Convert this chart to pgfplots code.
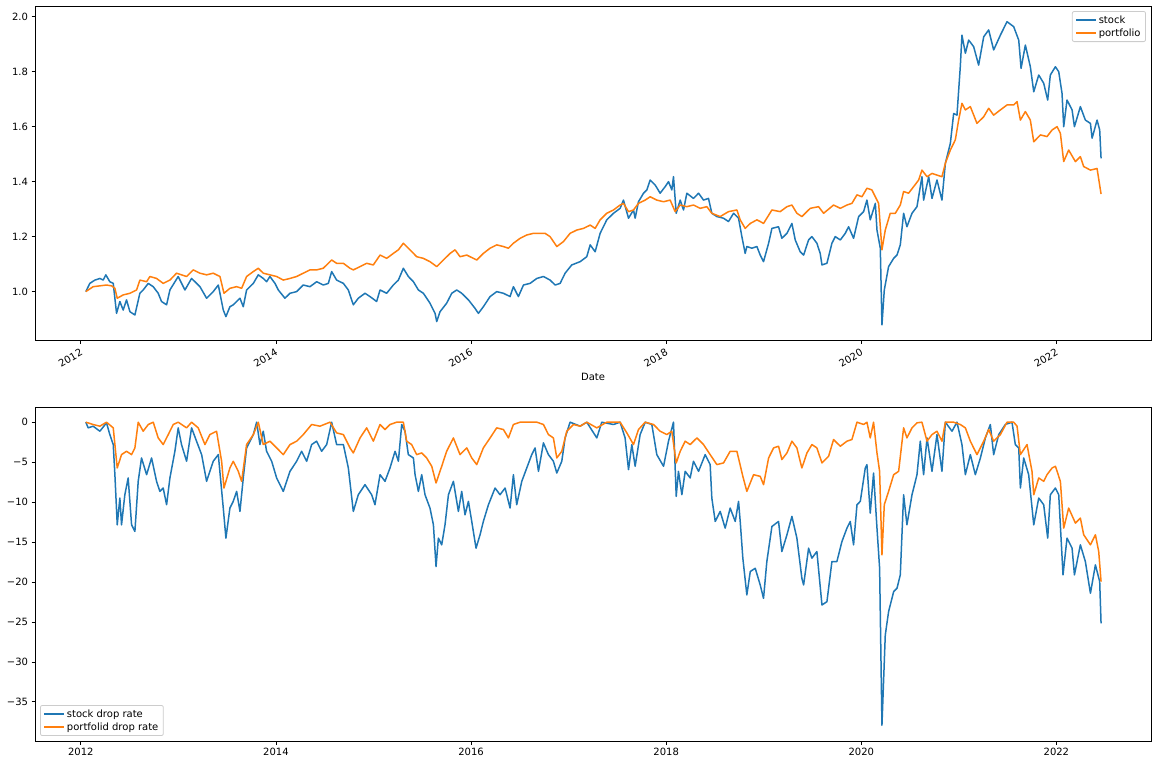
\documentclass[border=0pt]{standalone}
\usepackage{fontspec}
\setmainfont{DejaVu Sans}
\usepackage{pgfplots}
\usepackage{pgfplotstable}
\pgfplotsset{compat=1.18}
\definecolor{cA}{HTML}{1F77B4}
\definecolor{cB}{HTML}{FF7F0E}
\definecolor{lg}{HTML}{CCCCCC}

\pgfplotstableread[row sep=\\]{
x y\\
2012.051 1.000\\ 2012.092 1.030\\ 2012.144 1.042\\ 2012.195 1.048\\ 2012.229 1.042\\ 2012.256 1.061\\ 2012.297 1.036\\ 2012.332 1.030\\
2012.366 0.921\\ 2012.400 0.964\\ 2012.434 0.933\\ 2012.468 0.970\\ 2012.503 0.927\\ 2012.554 0.915\\ 2012.605 0.994\\ 2012.639 1.006\\
2012.691 1.030\\ 2012.742 1.018\\ 2012.793 0.994\\ 2012.827 0.964\\ 2012.879 0.952\\ 2012.913 1.006\\ 2012.998 1.055\\ 2013.067 1.006\\
2013.135 1.048\\ 2013.221 1.018\\ 2013.289 0.976\\ 2013.357 1.000\\ 2013.409 1.024\\ 2013.460 0.933\\ 2013.487 0.909\\ 2013.528 0.945\\
2013.562 0.952\\ 2013.631 0.976\\ 2013.665 0.945\\ 2013.699 1.006\\ 2013.768 1.030\\ 2013.819 1.061\\ 2013.870 1.048\\ 2013.904 1.036\\
2013.938 1.055\\ 2013.990 1.030\\ 2014.024 1.006\\ 2014.092 0.976\\ 2014.144 0.994\\ 2014.212 1.000\\ 2014.280 1.024\\ 2014.349 1.018\\
2014.417 1.036\\ 2014.485 1.024\\ 2014.537 1.030\\ 2014.571 1.073\\ 2014.622 1.042\\ 2014.691 1.030\\ 2014.742 1.006\\ 2014.793 0.952\\
2014.844 0.976\\ 2014.913 0.994\\ 2014.964 0.982\\ 2015.032 0.964\\ 2015.067 1.006\\ 2015.135 0.994\\ 2015.203 1.024\\ 2015.255 1.042\\
2015.306 1.085\\ 2015.357 1.055\\ 2015.409 1.036\\ 2015.460 1.006\\ 2015.511 0.994\\ 2015.579 0.958\\ 2015.631 0.921\\ 2015.648 0.891\\
2015.682 0.927\\ 2015.750 0.958\\ 2015.802 0.994\\ 2015.853 1.006\\ 2015.904 0.994\\ 2015.973 0.970\\ 2016.041 0.939\\ 2016.075 0.921\\
2016.126 0.945\\ 2016.195 0.982\\ 2016.263 1.000\\ 2016.332 0.994\\ 2016.400 0.982\\ 2016.434 1.018\\ 2016.485 0.982\\ 2016.537 1.024\\
2016.605 1.030\\ 2016.674 1.048\\ 2016.742 1.055\\ 2016.810 1.042\\ 2016.862 1.024\\ 2016.913 1.030\\ 2016.964 1.067\\ 2017.032 1.097\\
2017.118 1.109\\ 2017.186 1.127\\ 2017.221 1.170\\ 2017.272 1.145\\ 2017.323 1.212\\ 2017.391 1.261\\ 2017.460 1.285\\ 2017.528 1.303\\
2017.562 1.333\\ 2017.614 1.267\\ 2017.665 1.297\\ 2017.682 1.267\\ 2017.716 1.327\\ 2017.768 1.358\\ 2017.802 1.370\\ 2017.836 1.406\\
2017.887 1.388\\ 2017.938 1.358\\ 2017.990 1.382\\ 2018.024 1.400\\ 2018.058 1.370\\ 2018.075 1.418\\ 2018.103 1.285\\ 2018.144 1.333\\
2018.178 1.297\\ 2018.212 1.358\\ 2018.280 1.339\\ 2018.332 1.358\\ 2018.383 1.333\\ 2018.434 1.339\\ 2018.468 1.285\\ 2018.520 1.273\\
2018.588 1.267\\ 2018.639 1.255\\ 2018.691 1.285\\ 2018.742 1.267\\ 2018.776 1.200\\ 2018.810 1.139\\ 2018.827 1.164\\ 2018.879 1.158\\
2018.930 1.164\\ 2018.964 1.133\\ 2018.998 1.109\\ 2019.050 1.176\\ 2019.084 1.230\\ 2019.152 1.236\\ 2019.186 1.194\\ 2019.238 1.212\\
2019.289 1.248\\ 2019.323 1.188\\ 2019.374 1.145\\ 2019.409 1.133\\ 2019.460 1.188\\ 2019.494 1.200\\ 2019.545 1.176\\ 2019.579 1.139\\
2019.597 1.097\\ 2019.648 1.103\\ 2019.699 1.176\\ 2019.733 1.200\\ 2019.785 1.188\\ 2019.836 1.212\\ 2019.870 1.236\\ 2019.921 1.194\\
2019.973 1.273\\ 2020.024 1.291\\ 2020.058 1.333\\ 2020.092 1.261\\ 2020.144 1.321\\ 2020.161 1.224\\ 2020.195 1.158\\ 2020.212 0.879\\
2020.236 1.006\\ 2020.280 1.091\\ 2020.332 1.121\\ 2020.366 1.133\\ 2020.400 1.170\\ 2020.434 1.285\\ 2020.468 1.236\\ 2020.520 1.285\\
2020.571 1.309\\ 2020.622 1.418\\ 2020.639 1.333\\ 2020.691 1.418\\ 2020.725 1.339\\ 2020.776 1.406\\ 2020.827 1.333\\ 2020.862 1.467\\
2020.913 1.539\\ 2020.947 1.648\\ 2020.981 1.642\\ 2021.015 1.818\\ 2021.032 1.933\\ 2021.067 1.867\\ 2021.101 1.915\\ 2021.152 1.891\\
2021.203 1.824\\ 2021.255 1.927\\ 2021.306 1.952\\ 2021.357 1.879\\ 2021.426 1.933\\ 2021.494 1.982\\ 2021.562 1.964\\ 2021.614 1.915\\
2021.638 1.812\\ 2021.682 1.897\\ 2021.733 1.818\\ 2021.768 1.727\\ 2021.819 1.788\\ 2021.870 1.758\\ 2021.911 1.697\\ 2021.938 1.788\\
2021.990 1.818\\ 2022.024 1.800\\ 2022.058 1.721\\ 2022.075 1.600\\ 2022.109 1.697\\ 2022.161 1.661\\ 2022.185 1.600\\ 2022.246 1.673\\
2022.297 1.624\\ 2022.349 1.612\\ 2022.366 1.558\\ 2022.417 1.624\\ 2022.444 1.588\\ 2022.458 1.485\\
}\stock

\pgfplotstableread[row sep=\\]{
x y\\
2012.051 1.000\\ 2012.126 1.018\\ 2012.195 1.021\\ 2012.263 1.024\\ 2012.315 1.021\\ 2012.349 1.012\\ 2012.373 0.976\\ 2012.434 0.988\\
2012.503 0.994\\ 2012.571 1.006\\ 2012.605 1.042\\ 2012.674 1.036\\ 2012.708 1.055\\ 2012.776 1.048\\ 2012.844 1.030\\ 2012.913 1.042\\
2012.981 1.067\\ 2013.084 1.055\\ 2013.152 1.079\\ 2013.221 1.067\\ 2013.289 1.061\\ 2013.357 1.067\\ 2013.426 1.055\\ 2013.467 0.994\\
2013.528 1.012\\ 2013.597 1.018\\ 2013.648 1.012\\ 2013.699 1.055\\ 2013.768 1.073\\ 2013.819 1.085\\ 2013.870 1.067\\ 2013.938 1.061\\
2014.007 1.055\\ 2014.075 1.042\\ 2014.144 1.048\\ 2014.212 1.055\\ 2014.280 1.067\\ 2014.349 1.079\\ 2014.417 1.079\\ 2014.485 1.085\\
2014.571 1.115\\ 2014.622 1.103\\ 2014.691 1.103\\ 2014.759 1.085\\ 2014.793 1.079\\ 2014.862 1.091\\ 2014.930 1.103\\ 2014.998 1.097\\
2015.067 1.133\\ 2015.135 1.121\\ 2015.203 1.139\\ 2015.255 1.152\\ 2015.306 1.176\\ 2015.374 1.152\\ 2015.443 1.127\\ 2015.511 1.121\\
2015.579 1.109\\ 2015.648 1.091\\ 2015.716 1.115\\ 2015.785 1.139\\ 2015.836 1.152\\ 2015.887 1.127\\ 2015.956 1.133\\ 2016.024 1.121\\
2016.058 1.115\\ 2016.126 1.139\\ 2016.195 1.158\\ 2016.263 1.170\\ 2016.332 1.164\\ 2016.383 1.158\\ 2016.434 1.176\\ 2016.503 1.194\\
2016.571 1.206\\ 2016.639 1.212\\ 2016.708 1.212\\ 2016.759 1.212\\ 2016.810 1.200\\ 2016.879 1.164\\ 2016.947 1.182\\ 2017.015 1.212\\
2017.084 1.224\\ 2017.152 1.230\\ 2017.221 1.242\\ 2017.272 1.230\\ 2017.323 1.261\\ 2017.391 1.285\\ 2017.460 1.297\\ 2017.528 1.315\\
2017.562 1.321\\ 2017.614 1.291\\ 2017.665 1.297\\ 2017.716 1.321\\ 2017.785 1.333\\ 2017.836 1.345\\ 2017.904 1.333\\ 2017.973 1.327\\
2018.041 1.333\\ 2018.092 1.291\\ 2018.144 1.315\\ 2018.212 1.309\\ 2018.280 1.315\\ 2018.349 1.303\\ 2018.417 1.309\\ 2018.468 1.285\\
2018.554 1.273\\ 2018.639 1.291\\ 2018.725 1.297\\ 2018.759 1.261\\ 2018.810 1.230\\ 2018.862 1.248\\ 2018.930 1.261\\ 2018.964 1.255\\
2018.998 1.248\\ 2019.084 1.297\\ 2019.169 1.291\\ 2019.238 1.309\\ 2019.289 1.315\\ 2019.340 1.285\\ 2019.391 1.273\\ 2019.477 1.303\\
2019.562 1.309\\ 2019.614 1.285\\ 2019.716 1.315\\ 2019.785 1.303\\ 2019.853 1.315\\ 2019.904 1.321\\ 2019.956 1.352\\ 2020.007 1.345\\
2020.058 1.376\\ 2020.109 1.370\\ 2020.144 1.345\\ 2020.178 1.321\\ 2020.212 1.152\\ 2020.246 1.224\\ 2020.297 1.285\\ 2020.349 1.285\\
2020.400 1.315\\ 2020.434 1.364\\ 2020.485 1.358\\ 2020.537 1.382\\ 2020.588 1.406\\ 2020.622 1.442\\ 2020.674 1.418\\ 2020.725 1.430\\
2020.776 1.424\\ 2020.827 1.418\\ 2020.862 1.467\\ 2020.913 1.515\\ 2020.964 1.552\\ 2020.998 1.624\\ 2021.032 1.685\\ 2021.067 1.661\\
2021.118 1.673\\ 2021.186 1.612\\ 2021.255 1.636\\ 2021.306 1.667\\ 2021.357 1.642\\ 2021.426 1.661\\ 2021.494 1.679\\ 2021.562 1.679\\
2021.597 1.691\\ 2021.631 1.624\\ 2021.682 1.655\\ 2021.733 1.624\\ 2021.768 1.545\\ 2021.836 1.570\\ 2021.904 1.564\\ 2021.956 1.588\\
2022.007 1.600\\ 2022.041 1.576\\ 2022.075 1.473\\ 2022.126 1.515\\ 2022.195 1.473\\ 2022.246 1.491\\ 2022.280 1.455\\ 2022.349 1.442\\
2022.417 1.448\\ 2022.458 1.355\\
}\portfolio

\pgfplotstableread[row sep=\\]{
x y\\
2012.051 0\\ 2012.075 -0.71\\ 2012.126 -0.50\\ 2012.195 -1.13\\ 2012.263 -0.08\\ 2012.297 -1.55\\ 2012.332 -2.80\\ 2012.349 -6.57\\
2012.373 -12.84\\ 2012.400 -9.49\\ 2012.417 -12.84\\ 2012.451 -9.08\\ 2012.485 -6.98\\ 2012.520 -12.84\\ 2012.554 -13.68\\ 2012.588 -7.40\\
2012.622 -4.48\\ 2012.674 -6.57\\ 2012.725 -4.48\\ 2012.776 -7.40\\ 2012.810 -8.66\\ 2012.844 -8.24\\ 2012.879 -10.33\\ 2012.913 -6.98\\
2012.964 -3.64\\ 2012.998 -0.71\\ 2013.032 -2.80\\ 2013.084 -4.89\\ 2013.135 -0.71\\ 2013.186 -2.38\\ 2013.238 -4.06\\ 2013.289 -7.40\\
2013.357 -4.89\\ 2013.409 -4.06\\ 2013.460 -10.75\\ 2013.487 -14.51\\ 2013.528 -10.75\\ 2013.562 -9.91\\ 2013.597 -8.66\\ 2013.631 -11.17\\
2013.665 -6.98\\ 2013.699 -3.22\\ 2013.768 -1.55\\ 2013.802 0\\ 2013.836 -2.80\\ 2013.870 -1.13\\ 2013.904 -3.64\\ 2013.956 -4.89\\
2014.007 -6.98\\ 2014.075 -8.66\\ 2014.144 -6.15\\ 2014.212 -4.89\\ 2014.263 -3.64\\ 2014.315 -4.89\\ 2014.366 -2.80\\ 2014.417 -2.38\\
2014.468 -3.64\\ 2014.520 -2.80\\ 2014.571 0\\ 2014.622 -2.80\\ 2014.691 -2.80\\ 2014.742 -5.73\\ 2014.793 -11.17\\ 2014.844 -9.08\\
2014.913 -7.82\\ 2014.981 -9.08\\ 2015.015 -10.33\\ 2015.067 -6.57\\ 2015.118 -7.40\\ 2015.169 -5.73\\ 2015.221 -3.64\\ 2015.255 -4.89\\
2015.289 -0.29\\ 2015.323 -1.13\\ 2015.357 -4.06\\ 2015.409 -4.48\\ 2015.426 -6.57\\ 2015.460 -8.66\\ 2015.494 -6.57\\ 2015.528 -9.08\\
2015.579 -10.75\\ 2015.614 -12.84\\ 2015.641 -18.07\\ 2015.665 -14.51\\ 2015.699 -15.35\\ 2015.733 -12.84\\ 2015.768 -9.08\\ 2015.819 -7.40\\
2015.870 -11.17\\ 2015.904 -8.66\\ 2015.938 -11.59\\ 2015.973 -9.91\\ 2016.007 -12.42\\ 2016.051 -15.77\\ 2016.092 -14.09\\ 2016.126 -12.42\\
2016.178 -10.33\\ 2016.246 -8.24\\ 2016.297 -9.08\\ 2016.349 -8.24\\ 2016.400 -10.75\\ 2016.434 -6.57\\ 2016.468 -10.33\\ 2016.520 -7.40\\
2016.571 -5.73\\ 2016.622 -4.06\\ 2016.656 -3.22\\ 2016.691 -6.15\\ 2016.742 -2.59\\ 2016.793 -4.06\\ 2016.844 -4.89\\ 2016.879 -6.36\\
2016.930 -4.89\\ 2016.964 -1.97\\ 2017.015 0\\ 2017.118 -0.50\\ 2017.186 0\\ 2017.289 -1.97\\ 2017.340 0\\ 2017.460 -0.29\\
2017.528 0\\ 2017.579 -1.97\\ 2017.614 -5.94\\ 2017.648 -2.80\\ 2017.682 -5.52\\ 2017.733 -1.55\\ 2017.785 0\\ 2017.853 -0.29\\
2017.904 -4.06\\ 2017.973 -5.52\\ 2018.024 -2.38\\ 2018.075 0\\ 2018.103 -9.28\\ 2018.126 -6.15\\ 2018.161 -9.08\\ 2018.195 -6.15\\
2018.246 -6.98\\ 2018.280 -4.89\\ 2018.332 -6.15\\ 2018.400 -4.06\\ 2018.451 -5.31\\ 2018.468 -9.49\\ 2018.503 -12.42\\ 2018.554 -11.17\\
2018.605 -13.26\\ 2018.656 -10.75\\ 2018.708 -12.42\\ 2018.742 -9.91\\ 2018.759 -12.42\\ 2018.786 -17.02\\ 2018.827 -21.62\\ 2018.862 -18.69\\
2018.913 -18.28\\ 2018.964 -20.37\\ 2018.998 -22.04\\ 2019.032 -17.44\\ 2019.084 -13.05\\ 2019.152 -12.42\\ 2019.186 -16.19\\ 2019.238 -14.09\\
2019.289 -11.79\\ 2019.340 -14.51\\ 2019.391 -19.53\\ 2019.409 -20.37\\ 2019.460 -15.77\\ 2019.494 -17.02\\ 2019.545 -16.19\\ 2019.597 -22.88\\
2019.648 -22.46\\ 2019.699 -17.44\\ 2019.750 -17.44\\ 2019.802 -14.93\\ 2019.853 -13.26\\ 2019.887 -12.42\\ 2019.921 -15.35\\ 2019.956 -10.33\\
2019.990 -9.91\\ 2020.041 -5.73\\ 2020.058 -5.31\\ 2020.092 -11.38\\ 2020.126 -6.36\\ 2020.161 -13.26\\ 2020.188 -18.28\\ 2020.212 -37.93\\
2020.246 -26.64\\ 2020.280 -23.71\\ 2020.332 -21.20\\ 2020.366 -20.79\\ 2020.400 -19.11\\ 2020.434 -9.08\\ 2020.468 -12.84\\ 2020.520 -9.08\\
2020.571 -6.57\\ 2020.605 -2.38\\ 2020.639 -6.57\\ 2020.674 -1.97\\ 2020.725 -6.15\\ 2020.776 -1.55\\ 2020.827 -6.15\\ 2020.862 0\\
2020.930 -1.13\\ 2020.981 0\\ 2021.032 -2.80\\ 2021.067 -6.57\\ 2021.118 -4.06\\ 2021.169 -6.57\\ 2021.221 -4.48\\ 2021.272 -1.97\\
2021.323 -0.29\\ 2021.357 -4.06\\ 2021.409 -1.55\\ 2021.477 -0.29\\ 2021.545 0\\ 2021.579 -2.80\\ 2021.614 -3.22\\ 2021.631 -8.24\\
2021.665 -4.48\\ 2021.716 -6.57\\ 2021.768 -12.84\\ 2021.819 -9.49\\ 2021.870 -10.33\\ 2021.911 -14.51\\ 2021.938 -9.08\\ 2021.990 -8.24\\
2022.024 -9.08\\ 2022.068 -19.11\\ 2022.109 -14.51\\ 2022.161 -15.77\\ 2022.185 -19.11\\ 2022.246 -15.35\\ 2022.297 -17.44\\ 2022.349 -21.41\\
2022.400 -17.86\\ 2022.444 -19.95\\ 2022.458 -25.18\\
}\stockdd

\pgfplotstableread[row sep=\\]{
x y\\
2012.051 0\\ 2012.126 -0.29\\ 2012.195 -0.50\\ 2012.263 0\\ 2012.332 -0.71\\ 2012.373 -5.73\\ 2012.417 -4.06\\ 2012.468 -3.64\\
2012.520 -4.06\\ 2012.554 -3.22\\ 2012.588 0\\ 2012.639 -1.13\\ 2012.691 -0.29\\ 2012.742 0\\ 2012.793 -1.97\\ 2012.844 -2.80\\
2012.896 -1.55\\ 2012.947 -0.29\\ 2012.998 0\\ 2013.084 -0.71\\ 2013.135 0\\ 2013.203 -0.71\\ 2013.272 -2.80\\ 2013.323 -1.55\\
2013.391 -1.13\\ 2013.443 -4.89\\ 2013.467 -8.24\\ 2013.528 -5.73\\ 2013.562 -4.89\\ 2013.614 -6.15\\ 2013.648 -7.40\\ 2013.699 -2.80\\
2013.768 -1.55\\ 2013.819 0\\ 2013.870 -2.80\\ 2013.938 -2.38\\ 2014.007 -3.22\\ 2014.075 -4.06\\ 2014.144 -2.80\\ 2014.212 -2.38\\
2014.280 -1.55\\ 2014.366 -0.29\\ 2014.451 -0.50\\ 2014.554 0\\ 2014.622 -1.34\\ 2014.691 -1.55\\ 2014.759 -3.22\\ 2014.793 -3.85\\
2014.862 -1.97\\ 2014.930 -0.71\\ 2014.998 -2.38\\ 2015.067 -0.29\\ 2015.118 -0.92\\ 2015.169 -0.29\\ 2015.238 0\\ 2015.306 0\\
2015.340 -2.38\\ 2015.391 -2.80\\ 2015.443 -4.06\\ 2015.494 -3.85\\ 2015.545 -4.48\\ 2015.597 -5.52\\ 2015.641 -7.61\\ 2015.699 -5.52\\
2015.750 -3.64\\ 2015.819 -1.97\\ 2015.887 -4.06\\ 2015.956 -3.22\\ 2016.007 -4.48\\ 2016.058 -5.31\\ 2016.126 -3.22\\ 2016.195 -1.97\\
2016.263 -0.71\\ 2016.332 -0.92\\ 2016.383 -1.97\\ 2016.434 -0.29\\ 2016.503 0\\ 2016.605 0\\ 2016.674 0\\ 2016.742 -0.29\\
2016.793 -1.55\\ 2016.844 -1.97\\ 2016.879 -4.48\\ 2016.930 -3.64\\ 2016.981 -1.13\\ 2017.050 -0.29\\ 2017.118 -0.50\\ 2017.186 0\\
2017.289 -0.71\\ 2017.391 0\\ 2017.528 0\\ 2017.597 -1.34\\ 2017.665 -2.80\\ 2017.716 -0.92\\ 2017.785 0\\ 2017.870 -0.29\\
2017.938 -1.13\\ 2018.007 -1.55\\ 2018.058 -1.13\\ 2018.103 -5.10\\ 2018.144 -3.64\\ 2018.195 -2.38\\ 2018.246 -2.80\\ 2018.315 -1.97\\
2018.383 -2.80\\ 2018.451 -4.06\\ 2018.520 -5.31\\ 2018.588 -5.10\\ 2018.656 -3.64\\ 2018.725 -3.64\\ 2018.786 -6.78\\ 2018.827 -8.66\\
2018.896 -6.57\\ 2018.964 -6.78\\ 2018.998 -7.82\\ 2019.050 -4.48\\ 2019.101 -3.22\\ 2019.152 -3.01\\ 2019.186 -4.68\\ 2019.238 -3.85\\
2019.289 -2.38\\ 2019.340 -3.22\\ 2019.391 -5.73\\ 2019.443 -3.85\\ 2019.494 -2.80\\ 2019.545 -3.22\\ 2019.597 -5.10\\ 2019.665 -4.27\\
2019.716 -2.17\\ 2019.785 -3.01\\ 2019.853 -2.38\\ 2019.904 -2.17\\ 2019.956 0\\ 2020.024 -0.29\\ 2020.058 0\\ 2020.092 -1.97\\
2020.126 0\\ 2020.161 -3.85\\ 2020.188 -6.15\\ 2020.212 -16.60\\ 2020.236 -10.33\\ 2020.280 -8.66\\ 2020.332 -6.57\\ 2020.383 -6.15\\
2020.434 -0.71\\ 2020.468 -1.97\\ 2020.520 -0.71\\ 2020.571 -0.08\\ 2020.622 0\\ 2020.674 -2.38\\ 2020.725 -1.55\\ 2020.776 -1.13\\
2020.827 -2.38\\ 2020.862 0\\ 2020.947 0\\ 2021.015 -0.29\\ 2021.067 -0.71\\ 2021.118 -2.38\\ 2021.186 -4.06\\ 2021.255 -2.38\\
2021.306 -0.92\\ 2021.357 -2.38\\ 2021.426 -1.55\\ 2021.494 0\\ 2021.562 0\\ 2021.597 -0.50\\ 2021.631 -4.06\\ 2021.699 -2.80\\
2021.750 -6.15\\ 2021.768 -9.08\\ 2021.819 -6.98\\ 2021.870 -7.40\\ 2021.904 -6.57\\ 2021.956 -5.73\\ 2021.990 -5.52\\ 2022.041 -7.40\\
2022.075 -13.26\\ 2022.126 -10.75\\ 2022.195 -12.63\\ 2022.246 -12.00\\ 2022.280 -14.09\\ 2022.349 -15.35\\ 2022.400 -14.09\\ 2022.434 -16.19\\
2022.458 -19.95\\
}\portdd

\begin{document}
\begin{tikzpicture}
\path[use as bounding box] (0pt,0pt) rectangle (1158pt,-765pt);
\pgfplotsset{
  mpl/.style={
    scale only axis, width=1116pt, height=334pt,
    xmin=2011.53, xmax=2022.97,
    axis line style={line width=0.8pt, black},
    tick align=outside, major tick length=3.5pt,
    every tick/.style={black, line width=0.8pt},
    xtick pos=left, ytick pos=left,
    xtick={2012,2014,2016,2018,2020,2022},
    xticklabels={2012,2014,2016,2018,2020,2022},
    ticklabel style={font=\fontsize{10}{12}\selectfont},
    every axis plot/.append style={line width=1.5pt, line join=round},
    legend cell align=left,
    legend image code/.code={\draw[##1] (0pt,0pt) -- (20pt,0pt);},
    legend style={draw=lg, line width=0.8pt, rounded corners=2pt, fill=white, fill opacity=0.8, text opacity=1,
      font=\fontsize{10}{12}\selectfont, inner xsep=3pt, inner ysep=2pt},
  }
}
\begin{axis}[mpl,
  at={(35pt,-340pt)}, anchor=south west,
  ymin=0.824, ymax=2.039,
  ytick={1.0,1.2,1.4,1.6,1.8,2.0},
  yticklabels={1.0,1.2,1.4,1.6,1.8,2.0},
  xticklabel style={rotate=30, anchor=north east},
  xlabel={Date},
  xlabel style={at={(axis description cs:0.5,-0.111)}, anchor=center, font=\fontsize{10}{12}\selectfont},
  legend style={at={(0.9955,0.985)}, anchor=north east},
]
\addplot[cA] table {\stock};
\addlegendentry{stock}
\addplot[cB] table {\portfolio};
\addlegendentry{portfolio}
\end{axis}
\begin{axis}[mpl,
  at={(35pt,-741pt)}, anchor=south west,
  ymin=-39.9, ymax=1.9,
  ytick={-35,-30,-25,-20,-15,-10,-5,0},
  yticklabels={−35,−30,−25,−20,−15,−10,−5,0},
  legend style={at={(0.0045,0.015)}, anchor=south west},
]
\addplot[cA] table {\stockdd};
\addlegendentry{stock drop rate}
\addplot[cB] table {\portdd};
\addlegendentry{portfolid drop rate}
\end{axis}
\end{tikzpicture}
\end{document}
